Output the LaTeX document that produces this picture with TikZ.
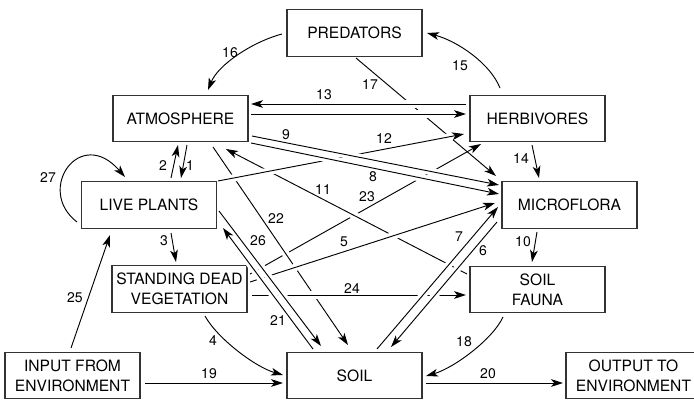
\documentclass[tikz,border=0pt]{standalone}
\usepackage{fontspec}
\setmainfont{TeX Gyre Heros}
\usetikzlibrary{arrows.meta}
\begin{document}
\begin{tikzpicture}[x=0.75pt,y=-0.75pt,
  >={Stealth[length=9pt,width=5.8pt,inset=2.4pt]},
  box/.style={draw=black!80, line width=0.9pt, minimum width=101.25pt, minimum height=35pt,
    inner sep=0pt, align=center, font=\fontsize{11.7}{15}\selectfont},
  arr/.style={line width=0.7pt, ->},
  xarr/.style={arr, preaction={draw=white, line width=5.5pt, -, shorten <=8pt, shorten >=8pt}},
  num/.style={font=\fontsize{10.5}{12}\selectfont, inner sep=0pt}]
\useasboundingbox (0,0) rectangle (694,400);
\clip (0,0) rectangle (694,400);
% boxes
\node[box] (pred) at (354.5,33) {PREDATORS};
\node[box] (atm) at (180.5,118.5) {ATMOSPHERE};
\node[box] (herb) at (537.5,118.5) {HERBIVORES};
\node[box] (lp) at (149,205) {LIVE PLANTS};
\node[box] (micro) at (569.5,205) {MICROFLORA};
\node[box] (sdv) at (179.5,289) {STANDING DEAD\\VEGETATION};
\node[box] (sf) at (537.5,289.5) {SOIL\\FAUNA};
\node[box] (inp) at (72.5,375.5) {INPUT FROM\\ENVIRONMENT};
\node[box] (soil) at (354.5,375.5) {SOIL};
\node[box] (out) at (633.5,375.5) {OUTPUT TO\\ENVIRONMENT};
% connectors, back to front
\draw[arr] ([shift={(70.5,-15)}]sdv.center) -- ([shift={(-56.5,25.5)}]herb.center); % 23
\draw[arr] ([shift={(1.5,25)}]pred.center) -- ([shift={(-73.5,-29)}]micro.center); % 17
\draw[xarr] ([shift={(32.5,28.5)}]atm.center) -- ([shift={(-6.5,-30.5)}]soil.center); % 22
\draw[xarr] ([shift={(-70.5,-15.5)}]sf.center) -- ([shift={(45.5,30.5)}]atm.center); % 11
\draw[xarr] ([shift={(72.5,6)}]sdv.center) -- ([shift={(-71.5,5.5)}]sf.center); % 24
\draw[xarr] ([shift={(69,-24)}]lp.center) -- ([shift={(-73.5,15.5)}]herb.center); % 12
\draw[xarr] ([shift={(70.5,-7)}]sdv.center) -- ([shift={(-74.5,-2)}]micro.center); % 5
\draw[xarr] ([shift={(-71.5,-14.5)}]herb.center) -- ([shift={(70.5,-14.5)}]atm.center); % 13 upper
\draw[xarr] ([shift={(70.5,-4.5)}]atm.center) -- ([shift={(-71.5,-4.5)}]herb.center); % 13 lower
\draw[xarr] ([shift={(71.5,17.5)}]atm.center) -- ([shift={(-70.5,-20)}]micro.center); % 9
\draw[xarr] ([shift={(70.5,24.5)}]atm.center) -- ([shift={(-70.5,-11)}]micro.center); % 8
\draw[xarr] ([shift={(70,6)}]lp.center) -- ([shift={(-33.5,-29.5)}]soil.center); % 26
\draw[xarr] ([shift={(-41.5,-26.5)}]soil.center) -- ([shift={(74,23)}]lp.center); % 21
\draw[xarr] ([shift={(22.5,-26.5)}]soil.center) -- ([shift={(-71.5,2)}]micro.center); % 7
\draw[xarr] ([shift={(-72.5,17)}]micro.center) -- ([shift={(36.5,-28.5)}]soil.center); % 6
% remaining connectors
\draw[arr] ([shift={(-72.5,1)}]pred.center) .. controls +(-30,8) and +(10,-25) .. ([shift={(27.5,-28.5)}]atm.center); % 16
\draw[arr] ([shift={(-37.5,-30.5)}]herb.center) .. controls +(-10,-25) and +(30,8) .. ([shift={(72.5,0)}]pred.center); % 15
\draw[arr] ([shift={(-5.5,26.5)}]herb.center) -- ([shift={(-30.5,-27)}]micro.center); % 14
\draw[arr] ([shift={(-32.5,27)}]micro.center) -- ([shift={(-5.5,-27.5)}]sf.center); % 10
\draw[arr] ([shift={(22,28)}]lp.center) -- ([shift={(-3.5,-27)}]sdv.center); % 3
\draw[arr] ([shift={(22,-27)}]lp.center) -- ([shift={(-2.5,26.5)}]atm.center); % 2
\draw[arr] ([shift={(6.5,26.5)}]atm.center) -- ([shift={(32,-27)}]lp.center); % 1
\draw[arr] ([shift={(-72,17)}]lp.center) .. controls +(-42,-32) and +(-45,-52) .. ([shift={(-24,-28)}]lp.center); % 27
\draw[arr] ([shift={(-1.5,-27.5)}]inp.center) -- ([shift={(-39,30)}]lp.center); % 25
\draw[arr] ([shift={(72.5,7.5)}]inp.center) -- ([shift={(-71.5,7.5)}]soil.center); % 19
\draw[arr] ([shift={(25.5,27)}]sdv.center) .. controls +(12,22) and +(-28,-8) .. ([shift={(-71.5,-0.5)}]soil.center); % 4
\draw[arr] ([shift={(-34.5,27.5)}]sf.center) .. controls +(-10,22) and +(28,-8) .. ([shift={(71.5,0.5)}]soil.center); % 18
\draw[arr] ([shift={(71.5,7.5)}]soil.center) -- ([shift={(-70.5,7.5)}]out.center); % 20
% labels
\node[num] (l1) at (190,166) {1};
\node[num] (l2) at (163,166) {2};
\node[num] (l3) at (164,241) {3};
\node[num] (l4) at (213,341) {4};
\node[num] (l5) at (344,242) {5};
\node[num] (l6) at (483,251) {6};
\node[num] (l7) at (459,237) {7};
\node[num] (l8) at (373,177) {8};
\node[num] (l9) at (286,135) {9};
\node[num] (l10) at (523,242) {10};
\node[num] (l11) at (323,190) {11};
\node[num] (l12) at (384,139) {12};
\node[num] (l13) at (324,95) {13};
\node[num] (l14) at (521,159) {14};
\node[num] (l15) at (460,66) {15};
\node[num] (l16) at (230,53) {16};
\node[num] (l17) at (370,85) {17};
\node[num] (l18) at (464,342) {18};
\node[num] (l19) at (209,374) {19};
\node[num] (l20) at (488,374) {20};
\node[num] (l21) at (278,321) {21};
\node[num] (l22) at (276,219) {22};
\node[num] (l23) at (367,197) {23};
\node[num] (l24) at (352,289) {24};
\node[num] (l25) at (75,298) {25};
\node[num] (l26) at (258,241) {26};
\node[num] (l27) at (48,178) {27};
\end{tikzpicture}
\end{document}
